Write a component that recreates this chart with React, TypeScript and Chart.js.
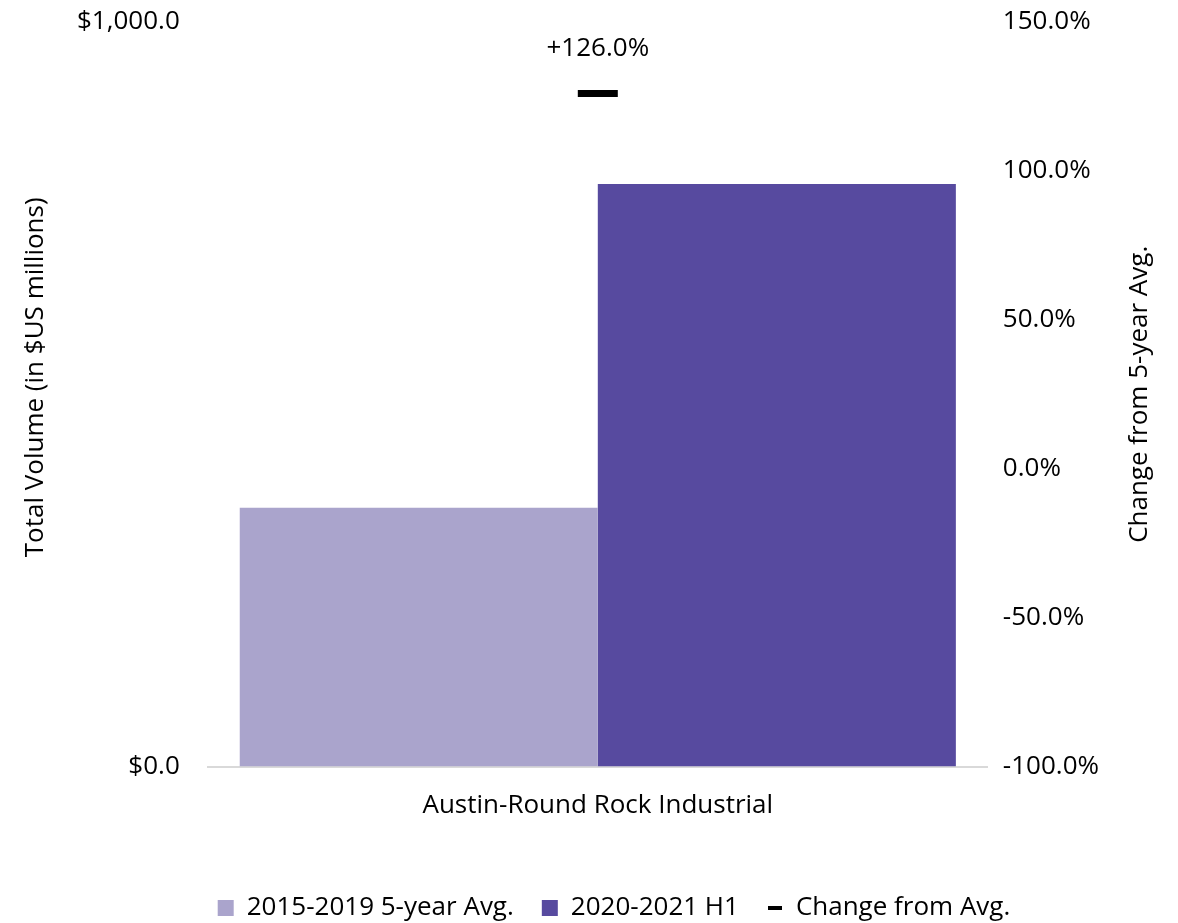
import React, { useEffect, useRef } from "react";
import { Chart, registerables } from "chart.js";

Chart.register(...registerables);

const categories = ["Austin-Round Rock Industrial"];
const avgValues = [347.7];
const h1Values = [782.6];
const changeValues = [126.0];
const seriesNames = ["2015-2019 5-year Avg.", "2020-2021 H1", "Change from Avg."];
const leftTicks = [0, 1000];
const rightTicks = [-100, -50, 0, 50, 100, 150];
const leftTitle = "Total Volume (in $US millions)";
const rightTitle = "Change from 5-year Avg.";

const FONT = "'Open Sans', 'Noto Sans', sans-serif";
const FS = 26;
const LEGEND_CENTER_X = 614;

const labelPlugin = {
  id: "changeLabel",
  beforeDraw(chart: any) {
    const lg = chart.legend;
    if (lg) {
      const cur = (lg.left + lg.right) / 2;
      const dx = LEGEND_CENTER_X - cur;
      lg.left += dx;
      lg.right += dx;
    }
  },
  afterDatasetsDraw(chart: any) {
    const meta = chart.getDatasetMeta(2);
    const ctx = chart.ctx;
    ctx.save();
    ctx.font = `${FS}px ${FONT}`;
    ctx.fillStyle = "#000";
    ctx.textAlign = "center";
    ctx.textBaseline = "middle";
    meta.data.forEach((pt: any, i: number) => {
      const v = changeValues[i];
      const txt = (v >= 0 ? "+" : "") + v.toFixed(1) + "%";
      ctx.fillText(txt, pt.x, pt.y - 45);
    });
    const ca = chart.chartArea;
    // left axis title
    ctx.save();
    ctx.translate(36, (ca.top + ca.bottom) / 2 - 17);
    ctx.rotate(-Math.PI / 2);
    ctx.fillText(leftTitle, 0, 0);
    ctx.restore();
    // right axis title, reading bottom-to-top
    ctx.translate(1140, (ca.top + ca.bottom) / 2);
    ctx.rotate(-Math.PI / 2);
    ctx.fillText(rightTitle, 0, 0);
    ctx.restore();
  },
};

function makeDash() {
  const c = document.createElement("canvas");
  c.width = 14;
  c.height = 4;
  const g = c.getContext("2d")!;
  g.fillStyle = "#000";
  g.fillRect(0, 0, 14, 4);
  return c;
}

const noVPad = (axis: any) => {
  axis.paddingTop = 0;
  axis.paddingBottom = 0;
};

export default function App() {
  const ref = useRef<HTMLCanvasElement>(null);
  useEffect(() => {
    document.body.style.margin = "0";
    const dash = makeDash();
    const chart = new Chart(ref.current!, {
      type: "bar",
      data: {
        labels: categories,
        datasets: [
          {
            type: "bar",
            label: seriesNames[0],
            data: avgValues,
            backgroundColor: "#AAA4CC",
            yAxisID: "y",
            pointStyle: "rect",
            order: 2,
          } as any,
          {
            type: "bar",
            label: seriesNames[1],
            data: h1Values,
            backgroundColor: "#574A9F",
            yAxisID: "y",
            pointStyle: "rect",
            order: 2,
          } as any,
          {
            type: "line",
            label: seriesNames[2],
            data: changeValues,
            yAxisID: "y1",
            showLine: false,
            pointStyle: "line",
            pointRadius: 20,
            pointHoverRadius: 20,
            pointBorderWidth: 7,
            borderWidth: 4,
            borderColor: "#000",
            backgroundColor: "#000",
            order: 1,
          } as any,
        ],
      },
      options: {
        animation: false,
        responsive: false,
        maintainAspectRatio: false,
        layout: { autoPadding: false, padding: { top: 22, left: 57, right: 72, bottom: -8 } },
        datasets: { bar: { categoryPercentage: 0.918, barPercentage: 1.0 } },
        plugins: {
          tooltip: { enabled: false },
          legend: {
            position: "bottom",
            labels: {
              usePointStyle: true,
              boxWidth: 16,
              boxHeight: 16,
              padding: 28,
              color: "#000",
              font: { family: FONT, size: FS },
              sort: (a: any, b: any) => a.datasetIndex - b.datasetIndex,
              generateLabels: (ch: any) => {
                const items = Chart.defaults.plugins.legend.labels.generateLabels(ch);
                items.forEach((it: any) => {
                  if (it.datasetIndex === 2) {
                    it.pointStyle = dash;
                  } else {
                    it.pointStyle = "rect";
                    it.lineWidth = 0;
                  }
                });
                return items;
              },
            },
          },
        },
        scales: {
          x: {
            grid: { display: false },
            border: { display: true, color: "#D9D9D9", width: 2 },
            ticks: { color: "#000", font: { family: FONT, size: FS }, padding: 15 },
            title: { display: true, text: " ", font: { family: FONT, size: FS }, padding: { top: 0, bottom: 0 } },
          },
          y: {
            position: "left",
            min: 0,
            max: 1000,
            afterBuildTicks: (axis: any) => {
              axis.ticks = leftTicks.map((v) => ({ value: v }));
            },
            afterFit: noVPad,
            grid: { display: false },
            border: { display: false },
            ticks: {
              color: "#000",
              font: { family: FONT, size: FS },
              padding: 20,
              callback: (v: any) =>
                "$" + Number(v).toLocaleString("en-US", { minimumFractionDigits: 1, maximumFractionDigits: 1 }),
            },
          },
          y1: {
            position: "right",
            min: -100,
            max: 150,
            afterBuildTicks: (axis: any) => {
              axis.ticks = rightTicks.map((v) => ({ value: v }));
            },
            afterFit: noVPad,
            grid: { display: false },
            border: { display: false },
            ticks: {
              color: "#000",
              font: { family: FONT, size: FS },
              padding: 7,
              callback: (v: any) => Number(v).toFixed(1) + "%",
            },
          },
        },
      },
      plugins: [labelPlugin],
    });
    return () => chart.destroy();
  }, []);
  return (
    <div style={{ width: 1178, height: 923 }}>
      <canvas ref={ref} width={1178} height={923} style={{ display: "block" }} />
    </div>
  );
}
